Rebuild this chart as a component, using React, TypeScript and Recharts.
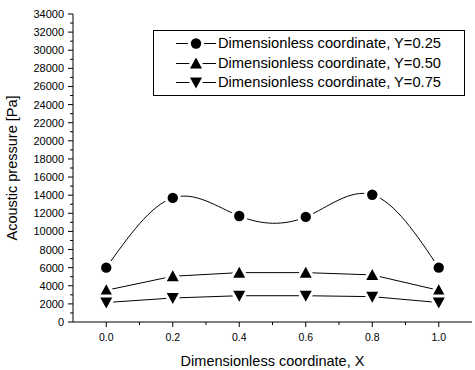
import React from 'react';
import { LineChart, Line, XAxis, YAxis, Legend } from 'recharts';

// dimensionless coordinate X along the plate
const xCoords = [0.0, 0.2, 0.4, 0.6, 0.8, 1.0];
// acoustic pressure [Pa] for each Y line
const pressureY025 = [6000, 13700, 11700, 11600, 14050, 6000];
const pressureY050 = [3500, 5050, 5450, 5450, 5200, 3500];
const pressureY075 = [2150, 2650, 2900, 2900, 2800, 2150];

const seriesNames = [
  'Dimensionless coordinate, Y=0.25',
  'Dimensionless coordinate, Y=0.50',
  'Dimensionless coordinate, Y=0.75'
];

const xTicks = [0.0, 0.1, 0.2, 0.3, 0.4, 0.5, 0.6, 0.7, 0.8, 0.9, 1.0];
const xMajorLabels = ['0.0', '0.2', '0.4', '0.6', '0.8', '1.0'];
const yTicks = Array.from({ length: 35 }, (_, i) => i * 1000);

const FONT = '"Liberation Sans", Arial, sans-serif';

const data = xCoords.map((x, i) => ({
  x,
  y25: pressureY025[i],
  y50: pressureY050[i],
  y75: pressureY075[i]
}));

const isMajorX = (v: number) => Math.round(v * 10) % 2 === 0;
const isMajorY = (v: number) => Math.round(v / 1000) % 2 === 0;

const BottomTick = (props: any) => {
  const { x, y, payload } = props;
  const major = isMajorX(payload.value);
  return (
    <g>
      <line x1={x} x2={x} y1={y} y2={y + (major ? 5 : 3)} stroke="#000" />
      {major && (
        <text x={x} y={y + 19} textAnchor="middle" fontSize={10.5} fontFamily={FONT} fill="#000">
          {xMajorLabels[Math.round(payload.value * 5)]}
        </text>
      )}
    </g>
  );
};

const TopTick = (props: any) => {
  const { x, y, payload } = props;
  const major = isMajorX(payload.value);
  return <line x1={x} x2={x} y1={y} y2={y + (major ? 5 : 3)} stroke="#000" />;
};

const LeftTick = (props: any) => {
  const { x, y, payload } = props;
  const major = isMajorY(payload.value);
  return (
    <g>
      <line x1={x} x2={x - (major ? 5 : 3)} y1={y} y2={y} stroke="#000" />
      {major && (
        <text x={x - 9} y={y + 4} textAnchor="end" fontSize={11} fontFamily={FONT} fill="#000">
          {payload.value}
        </text>
      )}
    </g>
  );
};

const RightTick = (props: any) => {
  const { x, y, payload } = props;
  const major = isMajorY(payload.value);
  return <line x1={x} x2={x - (major ? 5 : 3)} y1={y} y2={y} stroke="#000" />;
};

const Marker = ({ kind, cx, cy }: { kind: string; cx: number; cy: number }) => {
  const common = { fill: '#000', stroke: '#fff', strokeWidth: 6, paintOrder: 'stroke' as const };
  if (kind === 'circle') return <circle cx={cx} cy={cy} r={5.2} {...common} />;
  if (kind === 'up')
    return <polygon points={`${cx},${cy - 6} ${cx - 6},${cy + 5} ${cx + 6},${cy + 5}`} {...common} />;
  return <polygon points={`${cx},${cy + 6} ${cx - 6},${cy - 5} ${cx + 6},${cy - 5}`} {...common} />;
};

const dotFor = (kind: string) => (props: any) =>
  <Marker key={`${kind}-${props.index}`} kind={kind} cx={props.cx} cy={props.cy} />;

const markerKinds = ['circle', 'up', 'down'];

const LegendBox = () => (
  <div
    style={{
      border: '1px solid #000',
      background: '#fff',
      width: 312,
      height: 66,
      boxSizing: 'border-box',
      paddingTop: 3,
      fontFamily: FONT,
      fontSize: 14.7
    }}
  >
    {seriesNames.map((name, i) => (
      <div key={name} style={{ display: 'flex', alignItems: 'center', height: 19.5 }}>
        <svg width={64} height={19} style={{ flex: 'none' }}>
          <line x1={22} x2={62} y1={9.5} y2={9.5} stroke="#000" />
          <Marker kind={markerKinds[i]} cx={42} cy={9.5} />
        </svg>
        <span style={{ whiteSpace: 'nowrap', lineHeight: '19px' }}>{name}</span>
      </div>
    ))}
  </div>
);

export default function App() {
  return (
    <div style={{ width: 475, height: 370, background: '#fff' }}>
      <style>{`body{margin:0}`}</style>
      <LineChart width={475} height={370} data={data} margin={{ top: 14, right: 3, left: 0, bottom: 0 }}>
        <XAxis
          xAxisId="bottom"
          dataKey="x"
          type="number"
          domain={[-0.1, 1.1]}
          ticks={xTicks}
          interval={0}
          tickSize={0}
          tickMargin={0}
          height={48}
          axisLine={{ stroke: '#000' }}
          tickLine={false}
          tick={<BottomTick />}
          label={{
            value: 'Dimensionless coordinate, X',
            position: 'insideBottom',
            offset: 4,
            fontSize: 14.5,
            fontFamily: FONT,
            fill: '#000'
          }}
        />
        <XAxis
          xAxisId="top"
          orientation="top"
          dataKey="x"
          type="number"
          domain={[-0.1, 1.1]}
          ticks={xTicks}
          interval={0}
          tickSize={0}
          tickMargin={0}
          height={0}
          axisLine={{ stroke: '#000' }}
          tickLine={false}
          tick={<TopTick />}
        />
        <YAxis
          yAxisId="left"
          type="number"
          domain={[0, 34000]}
          ticks={yTicks}
          interval={0}
          tickSize={0}
          tickMargin={0}
          width={73}
          axisLine={{ stroke: '#000' }}
          tickLine={false}
          tick={<LeftTick />}
          label={{
            value: 'Acoustic pressure [Pa]',
            angle: -90,
            position: 'insideLeft',
            offset: 12,
            fontSize: 14.5,
            fontFamily: FONT,
            fill: '#000',
            style: { textAnchor: 'middle' }
          }}
        />
        <YAxis
          yAxisId="right"
          orientation="right"
          type="number"
          domain={[0, 34000]}
          ticks={yTicks}
          interval={0}
          tickSize={0}
          tickMargin={0}
          width={0}
          axisLine={{ stroke: '#000' }}
          tickLine={false}
          tick={<RightTick />}
        />
        <Legend
          layout="horizontal"
          align="center"
          verticalAlign="middle"
          content={<LegendBox />}
          wrapperStyle={{ position: 'absolute', left: 153, top: 30, width: 312, height: 66 }}
        />
        <Line
          xAxisId="bottom"
          yAxisId="left"
          type="natural"
          dataKey="y25"
          name={seriesNames[0]}
          stroke="#000"
          strokeWidth={1}
          dot={dotFor('circle')}
          isAnimationActive={false}
        />
        <Line
          xAxisId="bottom"
          yAxisId="left"
          type="linear"
          dataKey="y50"
          name={seriesNames[1]}
          stroke="#000"
          strokeWidth={1}
          dot={dotFor('up')}
          isAnimationActive={false}
        />
        <Line
          xAxisId="bottom"
          yAxisId="left"
          type="linear"
          dataKey="y75"
          name={seriesNames[2]}
          stroke="#000"
          strokeWidth={1}
          dot={dotFor('down')}
          isAnimationActive={false}
        />
      </LineChart>
    </div>
  );
}
